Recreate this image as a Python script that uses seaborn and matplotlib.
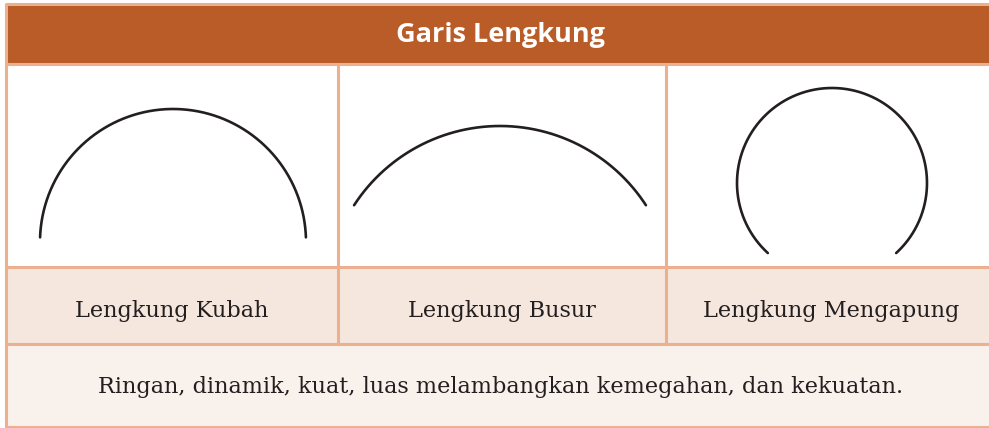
import numpy as np
import pandas as pd
import matplotlib
matplotlib.use("Agg")
import matplotlib.pyplot as plt
from matplotlib.patches import Rectangle
from matplotlib import font_manager
import seaborn as sns

# ---- content ----
title = "Garis Lengkung"
labels = ["Lengkung Kubah", "Lengkung Busur", "Lengkung Mengapung"]
description = "Ringan, dinamik, kuat, luas melambangkan kemegahan, dan kekuatan."

# arc parameters (centre x, centre y, radius, start angle, end angle in degrees; y downwards)
arc_cx = [173, 500, 832]
arc_cy = [242, 300, 183]
arc_r = [133, 174, 95]
arc_a0 = [182, 213, 132.5]
arc_a1 = [358, 327, 407.5]

# ---- styling ----
W, H = 989, 428
brown = "#B95C27"
border = "#EDB08F"
label_bg = "#F5E7DD"
desc_bg = "#F9F1EC"
ink = "#231F20"

sns.set_theme(style="white")
plt.rcParams["font.family"] = ["DejaVu Serif"]

fig = plt.figure(figsize=(W / 100, H / 100), dpi=100)
ax = fig.add_axes([0, 0, 1, 1])

left, right = 6, 996
col_x = [left, 338, 666, right]
y_top, y_head, y_img, y_lab, y_bot = 4, 64, 267, 344, 427

# backgrounds
ax.add_patch(Rectangle((left, y_top), right - left, y_head - y_top, fc=brown, ec="none", zorder=1))
ax.add_patch(Rectangle((left, y_head), right - left, y_img - y_head, fc="white", ec="none", zorder=1))
ax.add_patch(Rectangle((left, y_img), right - left, y_lab - y_img, fc=label_bg, ec="none", zorder=1))
ax.add_patch(Rectangle((left, y_lab), right - left, y_bot - y_lab, fc=desc_bg, ec="none", zorder=1))

lw = 2.2
for y in [y_top, y_head, y_img, y_lab, y_bot]:
    ax.plot([left, right], [y, y], color=border, lw=lw, zorder=3, solid_capstyle="butt")
ax.plot([left, left], [y_top, y_bot], color=border, lw=lw, zorder=3)
for x in col_x[1:3]:
    ax.plot([x, x], [y_head, y_lab], color=border, lw=lw, zorder=3)

# arcs via seaborn
rows = []
for i in range(3):
    t = np.linspace(np.radians(arc_a0[i]), np.radians(arc_a1[i]), 300)
    xs = arc_cx[i] + arc_r[i] * np.cos(t)
    ys = arc_cy[i] + arc_r[i] * np.sin(t)
    for k, (a, b) in enumerate(zip(xs, ys)):
        rows.append({"shape": labels[i], "order": k, "x": a, "y": b})
df = pd.DataFrame(rows)
for name, g in df.groupby("shape", sort=False):
    sns.lineplot(data=g, x="x", y="y", sort=False, estimator=None, color=ink,
                 lw=1.9, ax=ax, legend=False, zorder=4)
ax.set_xlim(0, W)
ax.set_ylim(H, 0)
ax.axis("off")

# title font: pick a bold sans that is installed
bold_family = "DejaVu Sans"
for fam in ["Noto Sans", "Open Sans", "Lato", "Roboto"]:
    try:
        fp = font_manager.findfont(font_manager.FontProperties(family=fam, weight="bold"),
                                   fallback_to_default=False)
        if "bold" in fp.lower():
            bold_family = fam
            break
    except Exception:
        pass

ax.text((left + right) / 2, 35, title, ha="center", va="center", color="white",
        fontsize=19.5, fontweight="bold", family=[bold_family, "DejaVu Sans"], zorder=5)
fs = 16.1
for i, lab in enumerate(labels):
    ax.text((col_x[i] + col_x[i + 1]) / 2, 311, lab, ha="center", va="center",
            color=ink, fontsize=fs, zorder=5)
ax.text((left + right) / 2, 387, description, ha="center", va="center",
        color=ink, fontsize=fs, zorder=5)

fig.savefig("out.png", dpi=100)
